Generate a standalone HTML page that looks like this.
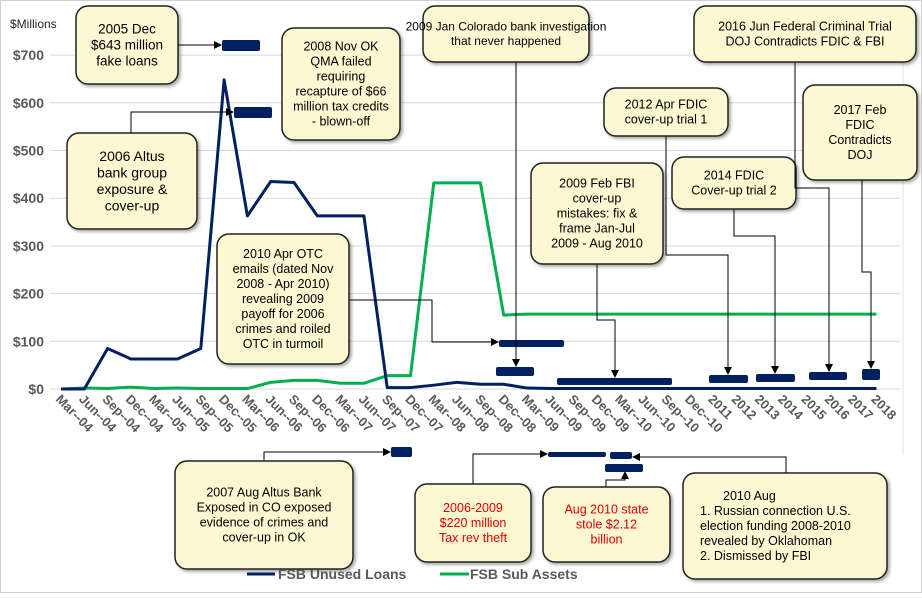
<!DOCTYPE html>
<html><head><meta charset="utf-8"><style>
body{margin:0;background:#fff}
svg{font-family:"Liberation Sans",Arial,sans-serif}
.box{fill:#fbf8d2;stroke:#222;stroke-width:1.5}
.bt{fill:#000}
.red{fill:#e00000}
.bar{fill:#002060}
.ln{stroke:#000;stroke-width:1;fill:none}
.xl{font-size:13px;font-weight:bold;fill:#595959}
.yl{font-size:14px;font-weight:bold;fill:#595959;text-anchor:end}
</style></head><body>
<svg id="c" width="922" height="593" viewBox="0 0 922 593" xmlns="http://www.w3.org/2000/svg">
<defs>
<marker id="ar" markerWidth="8" markerHeight="8" refX="7" refY="4" orient="auto" markerUnits="userSpaceOnUse"><path d="M0,0 L8,4 L0,8z" fill="#000"/></marker>
<filter id="sh" x="-10%" y="-10%" width="130%" height="130%"><feDropShadow dx="2" dy="2" stdDeviation="1.5" flood-color="#000" flood-opacity="0.35"/></filter>
</defs>
<rect x="0.5" y="0.5" width="921" height="592" fill="#fff" stroke="#d0d0d0"/>
<line x1="903" y1="8" x2="903" y2="455" stroke="#e0e0e0"/>
<text x="10" y="28" font-size="12" fill="#222">$Millions</text>
<g id="grid"></g><g id="xlab"></g><g id="lines"></g>
<g id="markers"></g>
<g id="ann"></g>
<g>
<line x1="247" y1="574" x2="275" y2="574" stroke="#002060" stroke-width="3"/>
<text x="278" y="579" font-size="14" font-weight="bold" fill="#595959">FSB Unused Loans</text>
<line x1="440" y1="574" x2="469" y2="574" stroke="#00b050" stroke-width="3"/>
<text x="470" y="579" font-size="14" font-weight="bold" fill="#595959">FSB Sub Assets</text>
</g>
</svg>
<script>
const categories=["Mar--04","Jun--04","Sep--04","Dec--04","Mar--05","Jun--05","Sep--05","Dec--05","Mar--06","Jun--06","Sep--06","Dec--06","Mar--07","Jun--07","Sep--07","Dec--07","Mar--08","Jun--08","Sep--08","Dec--08","Mar--09","Jun--09","Sep--09","Dec--09","Mar--10","Jun--10","Sep--10","Dec--10","2011","2012","2013","2014","2015","2016","2017","2018"];
const unusedLoans=[0,0,85,63,63,63,85,648,363,435,433,363,363,363,3,3,8,14,10,10,2,1,1,1,1,1,1,1,1,1,1,1,1,1,1,1];
const subAssets=[0,2,1,4,1,2,1,1,1,14,18,18,12,12,28,28,432,432,432,155,157,157,157,157,157,157,157,157,157,157,157,157,157,157,157,157];
const yTicks=[0,100,200,300,400,500,600,700];
const yTickLabels=["$0","$100","$200","$300","$400","$500","$600","$700"];
const NS="http://www.w3.org/2000/svg";
const X=i=>61+i*23.3, Y=v=>389-v*0.477;
function mk(t,a,p){const e=document.createElementNS(NS,t);for(const k in a)e.setAttribute(k,a[k]);(p||document.getElementById('c')).appendChild(e);return e;}
const grid=document.getElementById('grid');
yTicks.forEach((v,i)=>{
 const l=mk('line',{x1:50,x2:900,y1:Y(v),y2:Y(v),stroke:'#d9d9d9'},grid);
 
 
 const t=mk('text',{x:44,y:Y(v)+5,class:'yl'},grid);t.textContent=yTickLabels[i];
 
 
});
const xl=document.getElementById('xlab');
categories.forEach((c,i)=>{
 const x=X(i)-6,y=400;
 const t=mk('text',{x:x,y:y,class:'xl',transform:`rotate(45 ${x} ${y})`},xl);t.textContent=c;
 
 
});
const lg=document.getElementById('lines');
function series(arr,col,name){
 const p=mk('polyline',{points:arr.map((v,i)=>X(i)+','+Y(v)).join(' '),fill:'none',stroke:col,'stroke-width':3,'stroke-linejoin':'round'},lg);
 
 
}
series(subAssets,'#00b050','sub-assets-line');
series(unusedLoans,'#002060','unused-loans-line');
const bars=[[222,40,38,11],[234,107,38,11],[499,340,65,7],[496,367,38,9],[557,378,115,7],[709,375,39,8],[756,374,39,8],[809,372,38,8],[862,369,18,11],[391,447,21,10],[548,452,58,5],[610,452,22,7],[605,464,38,8]];
const mg=document.getElementById('markers');
bars.forEach(b=>{const r=mk('rect',{x:b[0],y:b[1],width:b[2],height:b[3],rx:2,class:'bar'},mg);
 
 });
const boxes=[
 [76,6,102,78,["2005 Dec","$643 million","fake loans"],0,13.5,"M178,45 L221,45"],
 [67,133,130,96,["2006 Altus","bank group","exposure &","cover-up"],0,14,"M131,133 L131,112 L233,112"],
 [282,28,118,112,["2008 Nov OK","QMA failed","requiring","recapture of $66","million tax credits","- blown-off"],0,12.5,""],
 [423,6,166,56,["2009 Jan Colorado bank investigation","that never happened"],0,12,"M516,62 L516,366"],
 [217,234,132,130,["2010 Apr OTC","emails (dated Nov","2008 - Apr 2010)","revealing  2009","payoff for 2006","crimes and roiled","OTC  in turmoil"],0,12.5,"M349,300 L432,300 L432,342 L498,342"],
 [531,163,132,101,["2009 Feb FBI","cover-up","mistakes: fix &","frame Jan-Jul","2009 - Aug 2010"],0,12.5,"M597,264 L597,320 L615,320 L615,377"],
 [604,88,124,48,["2012 Apr FDIC","cover-up  trial 1"],0,12.5,"M666,136 L666,255 L728,255 L728,374"],
 [672,157,124,52,["2014 FDIC","Cover-up  trial 2"],0,12.5,"M734,209 L734,236 L775,236 L775,373"],
 [694,6,222,56,["2016 Jun Federal Criminal Trial","DOJ Contradicts FDIC & FBI"],0,12.5,"M795,62 L795,188 L829,188 L829,371"],
 [803,85,114,95,["2017 Feb","FDIC","Contradicts","DOJ"],0,12.5,"M862,180 L862,272 L871,272 L871,368"],
 [175,461,178,108,["2007 Aug Altus Bank","Exposed in CO exposed","evidence of crimes and","cover-up  in OK"],0,12.5,"M264,461 L264,452 L390,452"],
 [415,484,116,78,["2006-2009","$220 million","Tax rev theft"],1,12.5,"M473,484 L473,454 L547,454"],
 [543,487,127,75,["Aug 2010  state","stole $2.12","billion"],1,12.5,"M606,487 L606,480 L625,480 L625,472"],
 [683,473,204,106,["2010  Aug","1. Russian connection U.S.","election funding 2008-2010","revealed  by Oklahoman","2. Dismissed by FBI"],2,12.5,"M786,473 L786,457 L633,457"]
];
const ag=document.getElementById('ann');
boxes.forEach(b=>{
 const [x,y,w,h,lines,red,fs,path]=b;
 const g=mk('g',{},ag);
 
 
 if(path){mk('path',{d:path,class:'ln','marker-end':'url(#ar)'},g);}
 mk('rect',{x:x,y:y,width:w,height:h,rx:12,class:'box',filter:'url(#sh)'},g);
 const lh=fs+2.5, top=y+h/2-(lines.length*lh)/2+fs-1;
 lines.forEach((s,i)=>{
  let tx=x+w/2, anc='middle';
  if(red==2){ if(i>0){tx=x+17;anc='start';} else {tx=x+40;anc='start';} }
  const t=mk('text',{x:tx,y:top+i*lh,class:'bt'+(red==1?' red':''),'font-size':fs,'text-anchor':anc},g);
  t.textContent=s;
 });
});
</script>
</body></html>
